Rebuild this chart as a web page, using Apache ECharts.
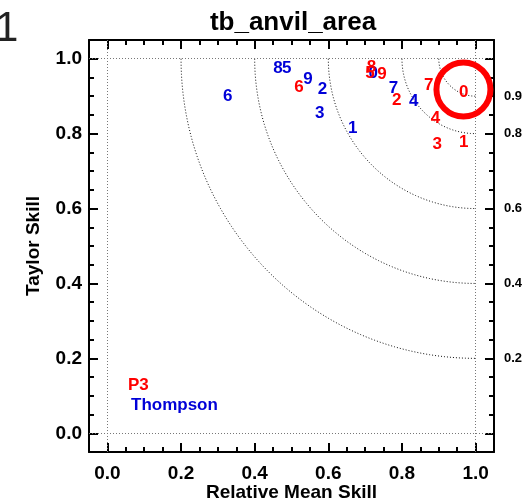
<!DOCTYPE html>
<html>
<head>
<meta charset="utf-8">
<script src="https://cdn.jsdelivr.net/npm/echarts@6/dist/echarts.min.js"></script>
<style>
    html, body { margin: 0; padding: 0; background: #fff; }
    #chart { width: 526px; height: 502px; }
</style>
</head>
<body>
<div id="chart"></div>
<script>
// P3 points (red)
const p3Ids = ['0', '1', '2', '3', '4', '5', '6', '7', '8', '9'];
const p3Mean = [0.968, 0.968, 0.786, 0.896, 0.891, 0.713, 0.520, 0.873, 0.717, 0.746];
const p3Taylor = [0.911, 0.776, 0.889, 0.772, 0.840, 0.962, 0.924, 0.929, 0.976, 0.958];

// Thompson points (blue)
const thompsonIds = ['0', '1', '2', '3', '4', '5', '6', '7', '8', '9'];
const thompsonMean = [0.722, 0.666, 0.584, 0.577, 0.832, 0.487, 0.327, 0.777, 0.463, 0.545];
const thompsonTaylor = [0.962, 0.814, 0.918, 0.855, 0.885, 0.974, 0.900, 0.920, 0.974, 0.944];

// highlighted point (red ring)
const ringCenter = [0.967, 0.918];

// skill contours, radius from (1,1)
const arcRadii = [0.1, 0.2, 0.4, 0.6, 0.8];

// tick labels
const xTicks = [0, 0.2, 0.4, 0.6, 0.8, 1.0];
const yTicks = [0, 0.2, 0.4, 0.6, 0.8, 1.0];
const rightTicks = [0.2, 0.4, 0.6, 0.8, 0.9];

const FONT = 'Liberation Sans';
const RED = '#ff0000';
const BLUE = '#0000d8';

const chart = echarts.init(document.getElementById('chart'));

function arcPoints(r) {
    const pts = [];
    for (let i = 0; i <= 90; i++) {
        const t = Math.PI + (i / 90) * Math.PI / 2;
        pts.push([1 + r * Math.cos(t), 1 + r * Math.sin(t)]);
    }
    return pts;
}

const boxStyle = { show: true, onZero: false, lineStyle: { color: '#000', width: 2 } };
const tickStyle = { width: 2, color: '#000' };

function makeX(pos, labels, major) {
    return {
        type: 'value', position: pos, min: -0.05, max: 1.05,
        interval: 0.05,
        axisLine: major ? { show: false, onZero: false } : boxStyle,
        splitLine: { show: false },
        axisTick: major
            ? { show: true, inside: true, length: 9, customValues: xTicks, lineStyle: tickStyle }
            : { show: true, inside: true, length: 5, lineStyle: tickStyle },
        axisLabel: labels
            ? { show: true, customValues: xTicks, formatter: v => v.toFixed(1), margin: 12,
                fontFamily: FONT, fontSize: 19, fontWeight: 'bold', color: '#000' }
            : { show: false },
        name: labels ? 'Relative Mean Skill' : '',
        nameLocation: 'middle', nameGap: 31, nameMoveOverlap: false,
        nameTextStyle: { fontFamily: FONT, fontSize: 19, fontWeight: 'bold', color: '#000' }
    };
}

function makeY(pos, labelVals, major, small) {
    return {
        type: 'value', position: pos, min: -0.05, max: 1.05,
        interval: 0.05,
        axisLine: major ? { show: false, onZero: false } : boxStyle,
        splitLine: { show: false },
        axisTick: major
            ? { show: true, inside: true, length: 9, customValues: yTicks, lineStyle: tickStyle }
            : { show: true, inside: true, length: 5, lineStyle: tickStyle },
        axisLabel: labelVals
            ? { show: true, customValues: labelVals, formatter: v => v.toFixed(1), margin: small ? 10 : 7,
                fontFamily: FONT, fontSize: small ? 13 : 19, fontWeight: 'bold', color: '#000' }
            : { show: false },
        name: (pos === 'left' && labelVals) ? 'Taylor Skill' : '',
        nameLocation: 'middle', nameGap: 46, nameMoveOverlap: false,
        nameTextStyle: { fontFamily: FONT, fontSize: 19, fontWeight: 'bold', color: '#000' }
    };
}

const labelSeries = (name, xs, ys, ids, color) => ({
    name: name,
    type: 'scatter',
    symbol: 'circle',
    symbolSize: 1,
    itemStyle: { color: 'rgba(0,0,0,0)', opacity: 1 },
    z: 5,
    data: xs.map((x, i) => ({
        value: [x, ys[i]],
        label: { formatter: ids[i] }
    })),
    label: {
        show: true, position: 'inside', color: color,
        fontFamily: FONT, fontSize: 17, fontWeight: 'bold'
    }
});

const option = {
    animation: false,
    backgroundColor: '#fff',
    grid: { left: 89, right: 32, top: 40, bottom: 50, outerBoundsMode: 'none', containLabel: false },
    title: {
        text: 'tb_anvil_area',
        left: 288, top: 5, textAlign: 'center',
        textStyle: { fontFamily: FONT, fontSize: 26, fontWeight: 'bold', color: '#000' }
    },
    graphic: [
        { type: 'text', left: -5, top: 8, style: { text: '1', fontFamily: FONT, fontSize: 42, fill: '#222' } },
        { type: 'text', left: 128, top: 377, style: { text: 'P3', fontFamily: FONT, fontSize: 17, fontWeight: 'bold', fill: RED } },
        { type: 'text', left: 131, top: 397, style: { text: 'Thompson', fontFamily: FONT, fontSize: 17, fontWeight: 'bold', fill: BLUE } }
    ],
    xAxis: [
        makeX('bottom', true, false),
        makeX('bottom', false, true),
        makeX('top', false, false),
        makeX('top', false, true)
    ],
    yAxis: [
        makeY('left', yTicks, false, false),
        makeY('left', null, true, false),
        makeY('right', rightTicks, false, true),
        makeY('right', null, true, false)
    ],
    series: [
        ...arcRadii.map(r => ({
            type: 'line',
            data: arcPoints(r),
            showSymbol: false,
            silent: true,
            lineStyle: { color: '#111', width: 1, type: [1, 2] }
        })),
        {
            type: 'line',
            data: [],
            silent: true,
            markLine: {
                symbol: 'none',
                silent: true,
                label: { show: false },
                lineStyle: { color: '#777', width: 1, type: [1, 2] },
                data: [{ xAxis: 0 }, { xAxis: 1 }, { yAxis: 0 }, { yAxis: 1 }]
            }
        },
        labelSeries('Thompson', thompsonMean, thompsonTaylor, thompsonIds, BLUE),
        labelSeries('P3', p3Mean, p3Taylor, p3Ids, RED),
        {
            type: 'scatter',
            symbol: 'circle',
            symbolSize: 54,
            z: 6,
            itemStyle: { color: 'rgba(0,0,0,0)', borderColor: RED, borderWidth: 6, opacity: 1 },
            data: [ringCenter]
        }
    ]
};

chart.setOption(option);
</script>
</body>
</html>
